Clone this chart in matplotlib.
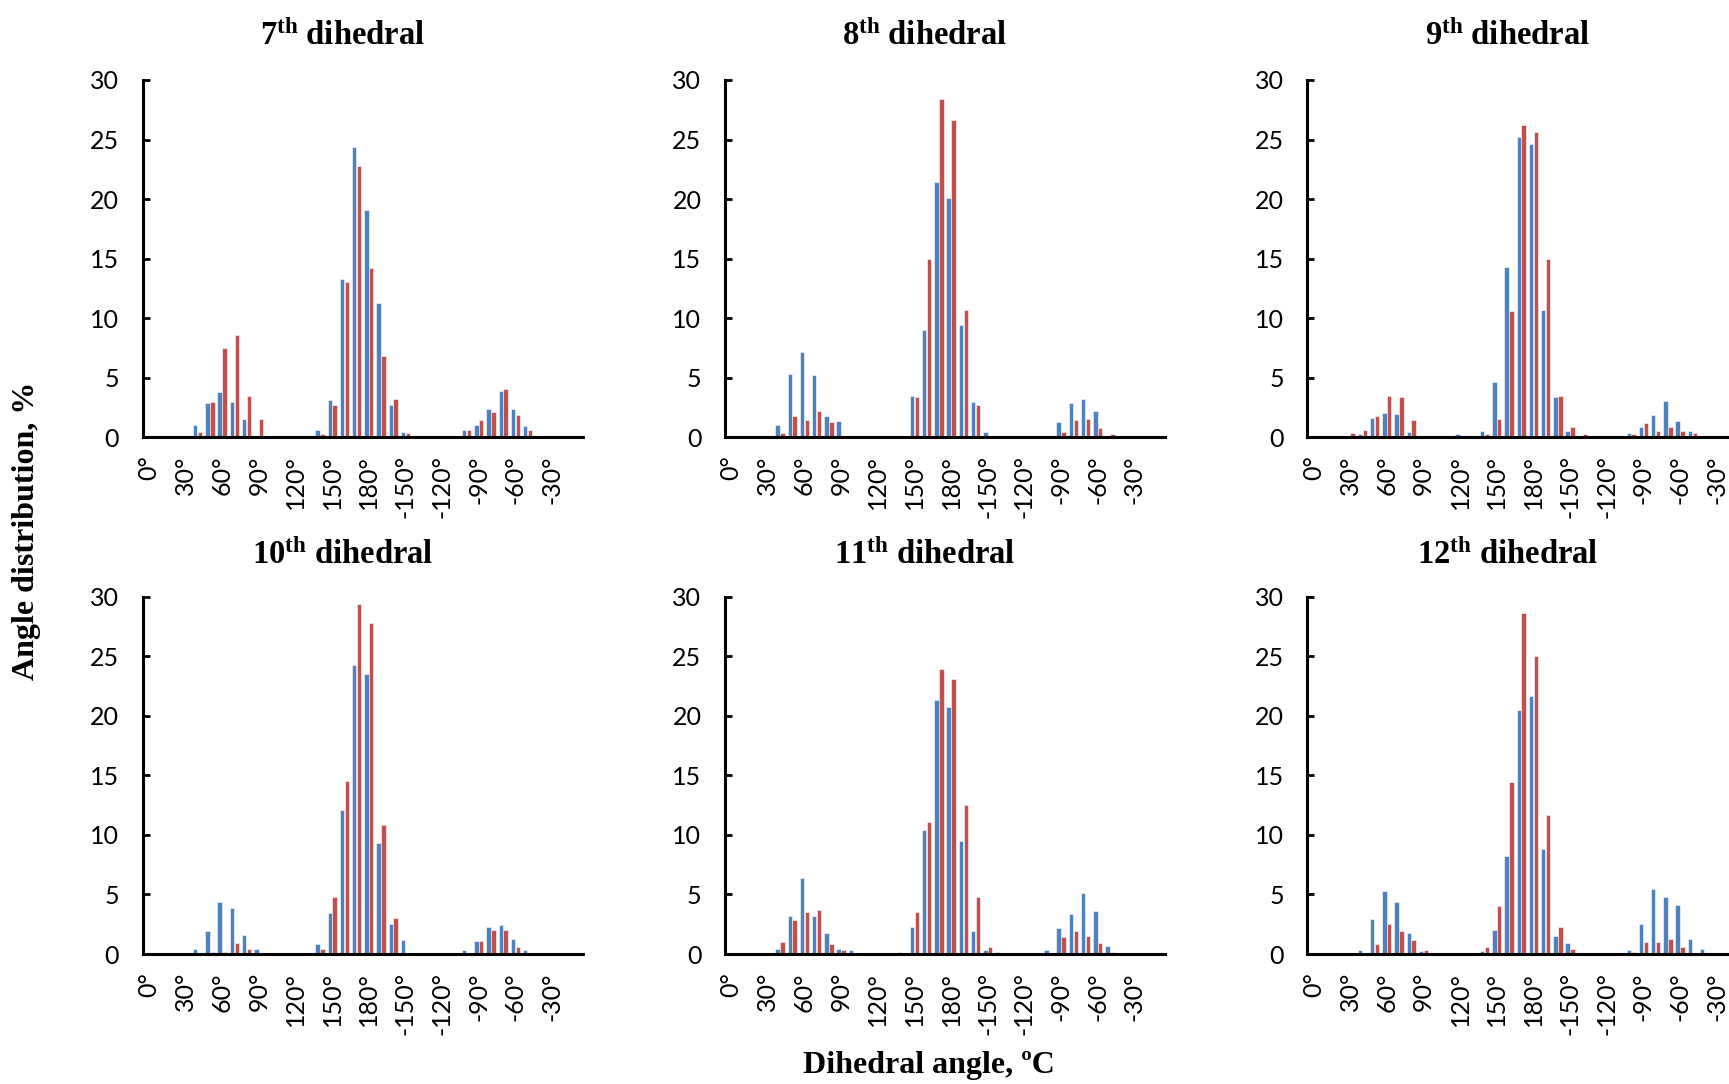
import matplotlib
matplotlib.use("Agg")
import matplotlib.pyplot as plt
import numpy as np

# ---- data (percent per 10-degree bin, 0..350) ----
angles = list(range(0, 360, 10))
tick_labels = ["0°", "30°", "60°", "90°", "120°", "150°", "180°",
               "-150°", "-120°", "-90°", "-60°", "-30°"]
titles = ["7", "8", "9", "10", "11", "12"]

p7_blue = [0,0,0,0,1.0,2.9,3.8,3.0,1.5,0, 0,0,0,0.1,0.65,3.1,13.3,24.4,19.1,11.3,
           2.75,0.45,0,0,0,0,0.65,1.05,2.35,3.85, 2.35,0.95,0,0,0,0]
p7_red = [0,0,0,0.1,0.45,3.0,7.5,8.6,3.5,1.5, 0.1,0,0,0,0.25,2.75,13.0,22.8,14.2,6.8,
          3.2,0.35,0,0,0,0,0.65,1.45,2.15,4.05, 1.85,0.65,0.1,0,0,0]
p8_blue = [0,0,0,0,1.05,5.35,7.15,5.25,1.75,1.35, 0,0,0,0,0,3.45,9.0,21.4,20.1,9.45,
           2.95,0.45,0,0,0,0,0.1,1.25,2.9,3.2, 2.25,0,0,0,0,0]
p8_red = [0,0,0,0,0.35,1.75,1.45,2.25,1.25,0, 0,0,0,0,0.1,3.35,15.0,28.4,26.6,10.7,
          2.75,0,0,0,0,0,0,0.45,1.45,1.55, 0.75,0.25,0,0,0,0]
p9_blue = [0,0,0,0,0.25,1.65,2.05,1.95,0.45,0.1, 0,0,0.25,0,0.55,4.65,14.3,25.2,24.6,10.65,
           3.35,0.55,0.1,0,0,0,0.35,0.85,1.85,3.05, 1.35,0.55,0,0,0,0]
p9_red = [0,0,0,0.35,0.65,1.75,3.45,3.35,1.45,0.1, 0,0,0.1,0,0.25,1.55,10.6,26.2,25.6,15.0,
          3.45,0.85,0.25,0,0,0,0.25,1.2,0.55,0.85, 0.55,0.35,0,0,0,0]
p10_blue = [0,0,0,0.1,0.4,1.95,4.4,3.85,1.6,0.4, 0.1,0,0,0,0.8,3.45,12.1,24.3,23.55,9.35,
            2.5,1.2,0,0,0.1,0,0.35,1.05,2.3,2.45, 1.25,0.35,0,0,0,0]
p10_red = [0,0,0,0,0,0.2,0.2,0.9,0.4,0, 0,0,0,0,0.4,4.8,14.55,29.35,27.75,10.85,
           3.0,0.1,0,0,0,0,0.1,1.05,2.05,2.05, 0.55,0.1,0,0,0,0]
p11_blue = [0,0,0,0,0.4,3.2,6.35,3.2,1.75,0.4, 0.35,0,0,0.1,0.2,2.3,10.4,21.35,20.7,9.45,
            1.95,0.35,0.2,0,0,0,0.35,2.15,3.35,5.1, 3.6,0.65,0,0,0,0]
p11_red = [0,0,0,0.1,1.0,2.85,3.55,3.7,0.8,0.35, 0,0,0,0.1,0.1,3.55,11.05,23.95,23.05,12.5,
           4.75,0.6,0,0,0,0.1,0,1.45,1.95,1.5, 0.9,0.2,0,0,0,0]
p12_blue = [0,0,0,0.1,0.35,2.95,5.25,4.4,1.75,0.25, 0.1,0,0,0,0.25,2.05,8.25,20.45,21.65,8.85,
            1.5,0.9,0,0,0,0,0.35,2.5,5.45,4.8, 4.15,1.25,0.4,0,0,0]
p12_red = [0,0,0,0,0.1,0.8,2.5,1.95,1.2,0.35, 0,0,0,0,0.6,4.0,14.4,28.65,25.0,11.65,
           2.25,0.4,0.1,0,0,0,0.2,1.0,1.0,1.3, 0.6,0.1,0,0,0,0]

blues = [p7_blue, p8_blue, p9_blue, p10_blue, p11_blue, p12_blue]
reds = [p7_red, p8_red, p9_red, p10_red, p11_red, p12_red]

# ---- styling ----
plt.rcParams['mathtext.fontset'] = 'custom'
plt.rcParams['mathtext.rm'] = 'Liberation Serif:bold'
plt.rcParams['mathtext.bf'] = 'Liberation Serif:bold'
plt.rcParams['mathtext.it'] = 'Liberation Serif:bold'

W, H = 1729, 1084
fig = plt.figure(figsize=(W / 100, H / 100), dpi=100)
BLUE = "#4F81BD"
RED = "#C0504D"

lefts = [142.7, 725.0, 1307.3]
bottoms_px = [437.3, 954.0]   # y of zero line from top
ax_w = 440.0
ax_h = 357.3
title_y = [36, 555]
TICK_FS = 18

x = np.arange(len(angles))
for i in range(6):
    r, c = divmod(i, 3)
    L = lefts[c]
    B = H - bottoms_px[r]
    ax = fig.add_axes([L / W, B / H, ax_w / W, ax_h / H])
    ax.bar(x - 0.2, blues[i], width=0.36, color=BLUE, edgecolor='white', linewidth=0.4, zorder=2)
    ax.bar(x + 0.2, reds[i], width=0.36, color=RED, edgecolor='white', linewidth=0.4, zorder=2)
    ax.set_xlim(-0.5, len(angles) - 0.5)
    ax.set_ylim(0, 30)
    ax.set_yticks(range(0, 31, 5))
    ax.set_xticks(x[::3])
    ax.set_xticklabels(tick_labels, rotation=90, fontfamily='Lato', fontsize=TICK_FS)
    for lab in ax.get_yticklabels():
        lab.set_fontfamily('Lato')
        lab.set_fontsize(TICK_FS)
    ax.tick_params(axis='y', direction='in', length=5, width=2, pad=17, colors='black')
    ax.tick_params(axis='x', length=0, pad=13)
    for s in ['top', 'right']:
        ax.spines[s].set_visible(False)
    for s in ['left', 'bottom']:
        ax.spines[s].set_linewidth(2.2)
        ax.spines[s].set_zorder(3)
    ax.set_facecolor('none')
    cx = L + ax_w / 2 - 20
    fig.text(cx / W, 1 - title_y[r] / H, r'$\mathbf{%s^{th}}$ dihedral' % titles[i],
             ha='center', va='center', fontsize=23.5, fontweight='bold',
             fontfamily='Liberation Serif')

fig.text(27 / W, 1 - 531 / H, "Angle distribution, %", rotation=90, ha='center', va='center',
         fontsize=23, fontweight='bold', fontfamily='Liberation Serif')
fig.text(929 / W, 1 - 1065 / H, "Dihedral angle, ºC", ha='center', va='center',
         fontsize=23, fontweight='bold', fontfamily='Liberation Serif')

fig.savefig("out.png", dpi=100, facecolor='white')
